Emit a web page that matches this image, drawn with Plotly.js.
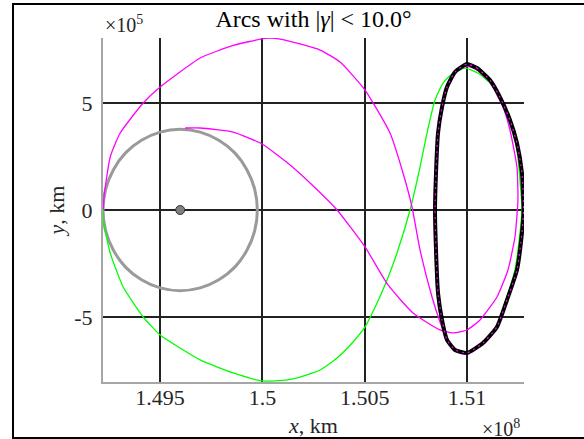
<!DOCTYPE html>
<html>
<head>
<meta charset="utf-8">
<script src="https://cdn.plot.ly/plotly-3.0.1.min.js"></script>
<style>
  body { margin: 0; background: #fff; }
  #plot { width: 584px; height: 439px; }
</style>
</head>
<body>
<div id="plot"></div>
<script>
// x in units of 1e8 km, y in units of 1e5 km (as the axis exponents show)

// gray circle (Moon orbit around Earth)
const circleX = [1.49975, 1.49962, 1.49924, 1.49865, 1.49787, 1.49696, 1.49598, 1.49500, 1.49409,
  1.49331, 1.49272, 1.49234, 1.49221, 1.49234, 1.49272, 1.49331, 1.49409, 1.49500, 1.49598,
  1.49696, 1.49787, 1.49865, 1.49924, 1.49962, 1.49975];
const circleY = [0, 0.976, 1.885, 2.67, 3.26, 3.64, 3.77, 3.64, 3.26, 2.67, 1.885, 0.976, 0,
  -0.976, -1.885, -2.67, -3.26, -3.64, -3.77, -3.64, -3.26, -2.67, -1.885, -0.976, 0];

const earthX = [1.49598];
const earthY = [0];

// black orbit near L2
const orbitX = [1.509994, 1.510482, 1.511117, 1.511606, 1.512094, 1.512436, 1.512680, 1.512760,
  1.512680, 1.512436, 1.511947, 1.511459, 1.510775, 1.509994, 1.509408, 1.509018, 1.508774,
  1.508579, 1.508481, 1.508432, 1.508481, 1.508579, 1.508774, 1.509018, 1.509408, 1.509994];
const orbitY = [6.823, 6.636, 6.075, 5.280, 4.206, 3.131, 1.729, 0, -1.075, -2.804, -4.206,
  -5.467, -6.215, -6.682, -6.542, -6.075, -5.140, -3.879, -1.869, 0, 1.729, 3.598, 4.813,
  5.748, 6.449, 6.823];

// green arc
const greenX = [1.49222, 1.49222, 1.492562, 1.493197, 1.494173, 1.495003, 1.496957, 1.498568,
  1.499984, 1.501205, 1.501693, 1.502816, 1.503646, 1.504428, 1.505013, 1.505599, 1.506088,
  1.506576, 1.507211, 1.507700, 1.508041, 1.508432, 1.508823, 1.509311, 1.509896, 1.510531,
  1.511117, 1.511606, 1.512094, 1.512436, 1.512583, 1.512680, 1.512583, 1.512338, 1.511899,
  1.511410, 1.510727, 1.509994, 1.509408, 1.509018, 1.508725, 1.508530, 1.508432];
const greenY = [0, -0.467, -2.009, -3.598, -5.000, -5.841, -7.009, -7.617, -7.991, -7.944,
  -7.851, -7.477, -6.916, -6.168, -5.467, -4.346, -3.271, -2.009, 0, 2.009, 3.598, 5.140,
  5.935, 6.402, 6.636, 6.402, 5.935, 5.140, 4.066, 2.804, 1.402, 0, -1.075, -2.804, -4.206,
  -5.467, -6.215, -6.636, -6.495, -6.028, -5.140, -3.879, -1.869];

// magenta arc from the Earth side, over the top
const magAX = [1.49222, 1.492269, 1.492562, 1.493050, 1.494173, 1.495003, 1.496957, 1.498568,
  1.500131, 1.500863, 1.502816, 1.503793, 1.505013, 1.506234, 1.506869, 1.507308, 1.507700,
  1.508286, 1.508676, 1.509018, 1.509408, 1.509994, 1.510775, 1.511459, 1.511947, 1.512436,
  1.512680, 1.512729, 1.512680, 1.512436, 1.512094, 1.511606, 1.511117, 1.510482, 1.509994];
const magAY = [0, 0.701, 2.477, 3.598, 5.000, 5.748, 7.103, 7.690, 8.020, 7.991, 7.477, 6.916,
  5.608, 3.598, 1.729, 0.140, -1.869, -4.066, -5.234, -6.075, -6.542, -6.682, -6.215, -5.467,
  -4.206, -2.804, -1.075, 0, 1.729, 3.131, 4.206, 5.280, 6.075, 6.636, 6.823];

// magenta arc from the top of the circle
const magBX = [1.496224, 1.496957, 1.498568, 1.499984, 1.501351, 1.502328, 1.503646, 1.505013,
  1.506137, 1.507357, 1.508676, 1.509311, 1.509994, 1.510629, 1.511459, 1.511996, 1.512338,
  1.512485, 1.512436, 1.512094, 1.511753, 1.511117, 1.510482, 1.509994, 1.509408, 1.509018,
  1.508774, 1.508579, 1.508481, 1.508432, 1.508481, 1.508579, 1.508774, 1.509018, 1.509408];
const magBY = [3.832, 3.832, 3.645, 3.084, 2.103, 1.262, 0, -1.729, -3.505, -4.813, -5.608,
  -5.748, -5.608, -5.140, -4.066, -2.804, -1.262, 0.467, 2.009, 3.738, 4.813, 5.981, 6.542,
  6.729, 6.449, 5.748, 4.813, 3.598, 1.729, 0, -1.869, -3.879, -5.140, -6.075, -6.542];

const xTicks = [1.495, 1.5, 1.505, 1.51];
const xTickText = ['1.495', '1.5', '1.505', '1.51'];
const yTicks = [-5, 0, 5];
const yTickText = ['-5', '0', '5'];

const serif = 'Liberation Serif, Times New Roman, serif';
const smooth = { shape: 'spline', smoothing: 0.5 };

const traces = [
  { x: circleX, y: circleY, type: 'scatter', mode: 'lines',
    line: { color: '#9a9a9a', width: 3, shape: 'spline', smoothing: 1 } },
  { x: greenX, y: greenY, type: 'scatter', mode: 'lines',
    line: Object.assign({ color: '#00ff00', width: 1.3 }, smooth) },
  { x: magAX, y: magAY, type: 'scatter', mode: 'lines',
    line: Object.assign({ color: '#ff00ff', width: 1.3 }, smooth) },
  { x: magBX, y: magBY, type: 'scatter', mode: 'lines',
    line: Object.assign({ color: '#ff00ff', width: 1.3 }, smooth) },
  { x: orbitX, y: orbitY, type: 'scatter', mode: 'lines',
    line: Object.assign({ color: '#000000', width: 4 }, smooth) },
  { x: orbitX, y: orbitY, type: 'scatter', mode: 'lines',
    line: Object.assign({ color: '#ff00ff', width: 1.2, dash: '2px,4px' }, smooth) },
  { x: earthX, y: earthY, type: 'scatter', mode: 'markers',
    marker: { color: '#7f7f7f', size: 9, line: { color: '#333333', width: 1 } } }
];

const layout = {
  width: 584,
  height: 439,
  margin: { l: 103, r: 60, t: 38, b: 57 },
  paper_bgcolor: '#ffffff',
  plot_bgcolor: '#ffffff',
  showlegend: false,
  font: { family: serif, size: 22, color: '#262626' },
  title: {
    text: 'Arcs with |<i>γ</i>|&nbsp;<&nbsp;10.0°',
    font: { family: serif, size: 24, color: '#000000' },
    x: 0.5, xref: 'paper', xanchor: 'center',
    y: 0.958, yref: 'container', yanchor: 'middle'
  },
  xaxis: {
    range: [1.49221, 1.51278],
    tickvals: xTicks,
    ticktext: xTickText,
    ticks: '',
    ticklabelstandoff: -5,
    showgrid: true,
    gridcolor: '#222222',
    gridwidth: 2,
    zeroline: false,
    showline: true,
    linecolor: '#a6a6a6',
    linewidth: 2,
    mirror: false,
    title: { text: '<i>x</i>, km', standoff: 8, font: { family: serif, size: 22, color: '#262626' } }
  },
  yaxis: {
    range: [-8.04, 8.04],
    tickvals: yTicks,
    ticktext: yTickText,
    ticks: '',
    ticklabelstandoff: 4,
    showgrid: true,
    gridcolor: '#222222',
    gridwidth: 2,
    zeroline: false,
    showline: true,
    linecolor: '#a6a6a6',
    linewidth: 2,
    title: { text: '<i>y</i>, km', standoff: 4, font: { family: serif, size: 22, color: '#262626' } }
  },
  annotations: [
    { text: '×10<sup>5</sup>', xref: 'paper', yref: 'paper', x: 0, y: 1.04,
      xanchor: 'left', yanchor: 'middle', showarrow: false,
      font: { family: serif, size: 20, color: '#262626' } },
    { text: '×10<sup>8</sup>', xref: 'paper', yref: 'paper', x: 0.995, y: -0.134,
      xanchor: 'right', yanchor: 'middle', showarrow: false,
      font: { family: serif, size: 20, color: '#262626' } }
  ],
  shapes: [
    // figure frame
    { type: 'rect', xref: 'paper', yref: 'paper', x0: -0.2138, x1: 1.16, y0: -0.1628, y1: 1.0988,
      line: { color: '#000000', width: 2 } }
  ]
};

Plotly.newPlot('plot', traces, layout, { displayModeBar: false, staticPlot: true });
</script>
</body>
</html>
